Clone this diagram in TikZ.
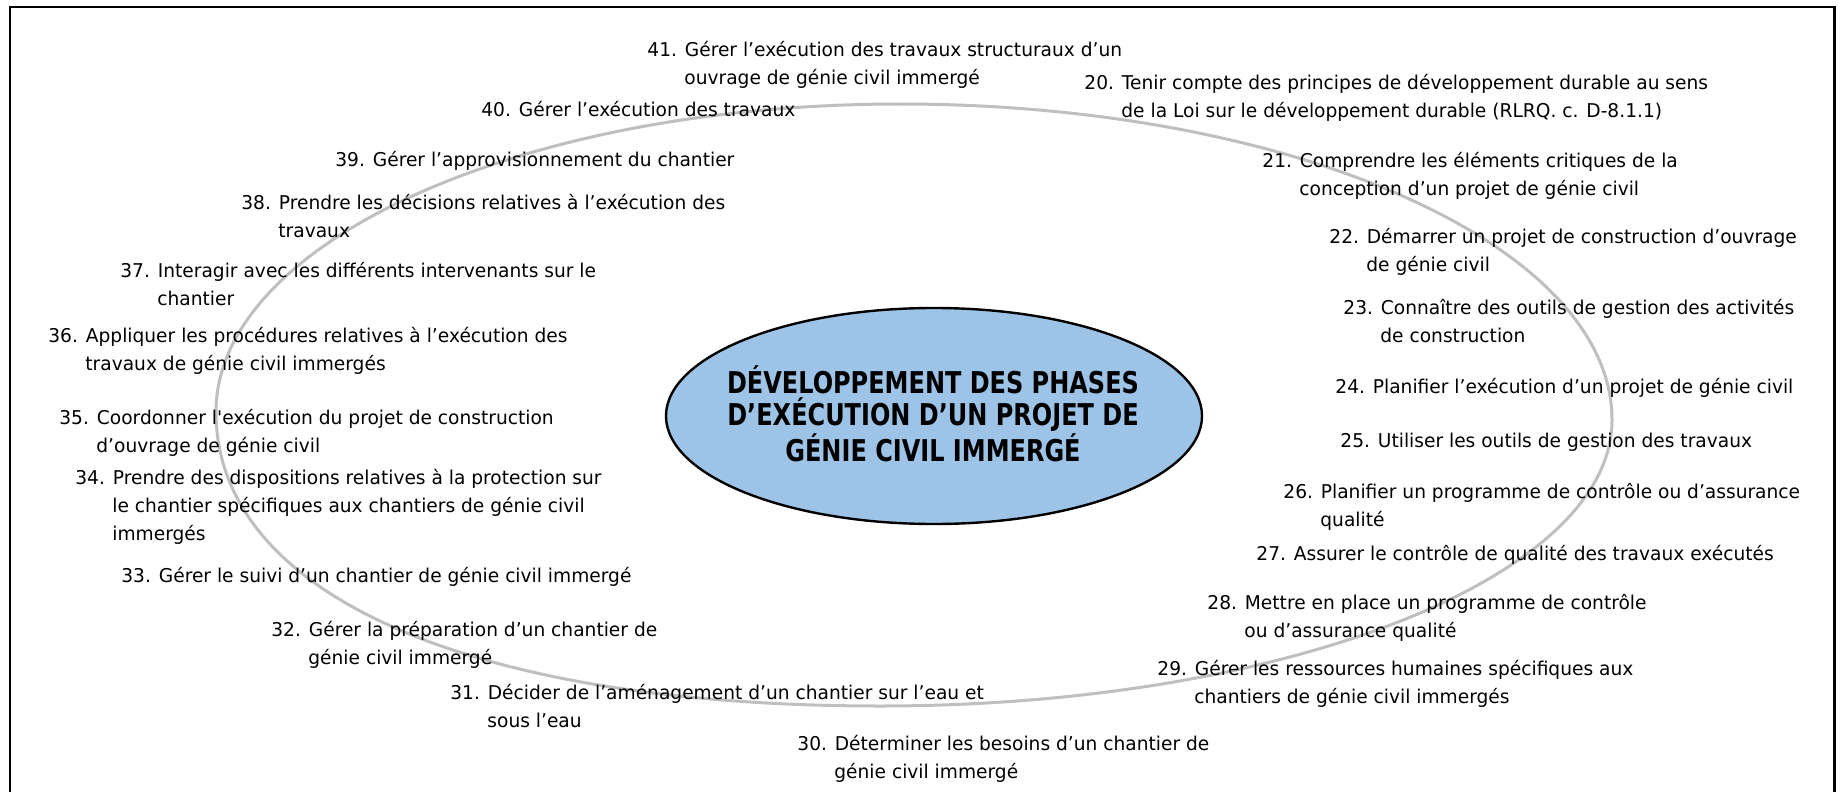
\documentclass[tikz,border=0pt]{standalone}
\usepackage{fontspec}
\setmainfont{DejaVu Sans}[FakeStretch=0.98]
\newfontfamily\titlefont{DejaVu Sans}[FakeStretch=0.8]
\definecolor{hubblue}{HTML}{9DC3E6}
\definecolor{ringgrey}{HTML}{BFBFBF}
% hanging indent of the continuation lines
\newcommand\hg{\hspace*{18.5pt}}
\tikzset{
  frameline/.style={line width=1.4pt, draw=black},
  ringline/.style={line width=1.5pt, draw=ringgrey, line cap=round},
  hubshape/.style={fill=hubblue, draw=black, line width=1.2pt},
  hubtext/.style={align=center, inner sep=0pt,
    font=\titlefont\bfseries\fontsize{15}{15.8}\selectfont},
  % anchored on the baseline of the last line
  skill/.style={anchor=base west, align=left, inner sep=0pt,
    font=\fontsize{9.5}{14}\selectfont}
}
\begin{document}
\begin{tikzpicture}[x=0.5pt,y=-0.5pt]
\useasboundingbox (0,0) rectangle (1841,792);
% outer frame, open at the bottom
\draw[frameline] (10,792) -- (10,7) -- (1834.5,7) -- (1834.5,792);
% grey ring around the centre
\draw[ringline] (900,104) .. controls (1293,104) and (1612,245) .. (1612,420)
  .. controls (1612,578) and (1284,706) .. (880,706)
  .. controls (468,706) and (216,594) .. (216,412)
  .. controls (216,242) and (522,104) .. (900,104);
% central theme
\draw[hubshape] (934,416) ellipse [x radius=268, y radius=108];
\node[hubtext] (hub) at (933,414) {DÉVELOPPEMENT DES PHASES\\D’EXÉCUTION D’UN PROJET DE\\GÉNIE CIVIL IMMERGÉ};
% competencies, left side
\node[skill] (c41) at (647,84.5) {41. Gérer l’exécution des travaux structuraux d’un\\\hg ouvrage de génie civil immergé};
\node[skill] (c40) at (481,116.5) {40. Gérer l’exécution des travaux};
\node[skill] (c39) at (335,166) {39. Gérer l’approvisionnement du chantier};
\node[skill] (c38) at (241,237.5) {38. Prendre les décisions relatives à l’exécution des\\\hg travaux};
\node[skill] (c37) at (120,305.5) {37. Interagir avec les différents intervenants sur le\\\hg chantier};
\node[skill] (c36) at (48,370.5) {36. Appliquer les procédures relatives à l’exécution des\\\hg travaux de génie civil immergés};
\node[skill] (c35) at (59,452.5) {35. Coordonner l\textquotesingle exécution du projet de construction\\\hg d’ouvrage de génie civil};
\node[skill] (c34) at (75,540.5) {34. Prendre des dispositions relatives à la protection sur\\\hg le chantier spécifiques aux chantiers de génie civil\\\hg immergés};
\node[skill] (c33) at (121,582.5) {33. Gérer le suivi d’un chantier de génie civil immergé};
\node[skill] (c32) at (271,664.5) {32. Gérer la préparation d’un chantier de\\\hg génie civil immergé};
\node[skill] (c31) at (450,727.5) {31. Décider de l’aménagement d’un chantier sur l’eau et\\\hg sous l’eau};
\node[skill] (c30) at (797,778) {30. Déterminer les besoins d’un chantier de\\\hg génie civil immergé};
% competencies, right side
\node[skill] (c20) at (1084,117.5) {20. Tenir compte des principes de développement durable au sens\\\hg de la Loi sur le développement durable (RLRQ. c. D-8.1.1)};
\node[skill] (c21) at (1262,195.5) {21. Comprendre les éléments critiques de la\\\hg conception d’un projet de génie civil};
\node[skill] (c22) at (1329,271.5) {22. Démarrer un projet de construction d’ouvrage\\\hg de génie civil};
\node[skill] (c23) at (1343,342.5) {23. Connaître des outils de gestion des activités\\\hg de construction};
\node[skill] (c24) at (1335,393.5) {24. Planifier l’exécution d’un projet de génie civil};
\node[skill] (c25) at (1340,447.5) {25. Utiliser les outils de gestion des travaux};
\node[skill] (c26) at (1283,526.5) {26. Planifier un programme de contrôle ou d’assurance\\\hg qualité};
\node[skill] (c27) at (1256,560.5) {27. Assurer le contrôle de qualité des travaux exécutés};
\node[skill] (c28) at (1207,637.5) {28. Mettre en place un programme de contrôle\\\hg ou d’assurance qualité};
\node[skill] (c29) at (1157,703.5) {29. Gérer les ressources humaines spécifiques aux\\\hg chantiers de génie civil immergés};
\end{tikzpicture}
\end{document}
